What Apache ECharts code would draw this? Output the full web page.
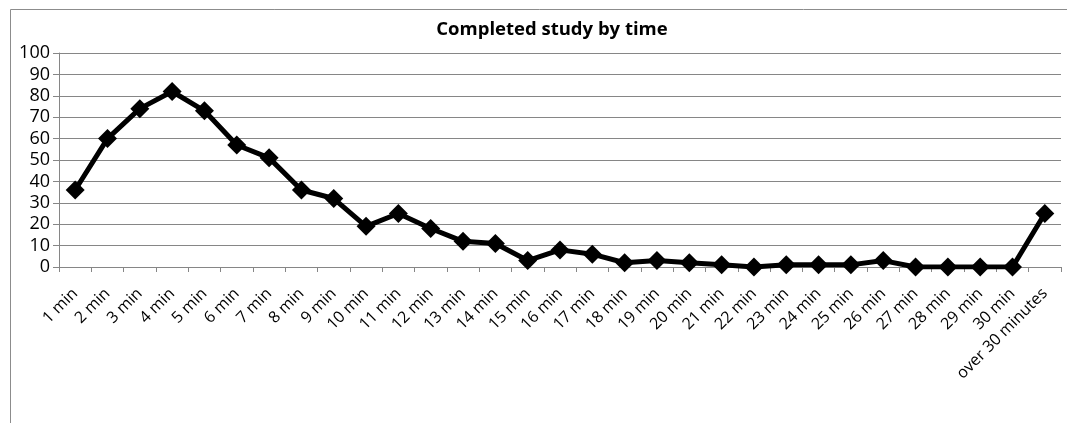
<!DOCTYPE html>
<html>
<head>
<meta charset="utf-8">
<script src="https://cdn.jsdelivr.net/npm/echarts@6/dist/echarts.min.js"></script>
<style>html,body{margin:0;padding:0;background:#fff;}#c{width:1067px;height:423px;}</style>
</head>
<body>
<div id="c"></div>
<script>
const categories = ['1 min','2 min','3 min','4 min','5 min','6 min','7 min','8 min','9 min','10 min','11 min','12 min','13 min','14 min','15 min','16 min','17 min','18 min','19 min','20 min','21 min','22 min','23 min','24 min','25 min','26 min','27 min','28 min','29 min','30 min','over 30 minutes'];
const completed = [36,60,74,82,73,57,51,36,32,19,25,18,12,11,3,8,6,2,3,2,1,0,1,1,1,3,0,0,0,0,25];
const yTicks = [0,10,20,30,40,50,60,70,80,90,100];
const titleText = 'Completed study by time';
const font = '"Open Sans", Lato, sans-serif';

const chart = echarts.init(document.getElementById('c'), null, {renderer:'canvas'});
chart.setOption({
  animation: false,
  backgroundColor: '#fff',
  title: {
    text: titleText, left: 547, textAlign: 'center', top: 15,
    textStyle: {fontFamily: font, fontSize: 18.5, fontWeight: 'bold', color: '#000'}
  },
  graphic: [{
    type: 'rect', shape: {x: 10.5, y: 9.5, width: 1200, height: 600},
    style: {fill: 'none', stroke: '#8c8c8c', lineWidth: 1}, silent: true, z: -1
  }],
  grid: {left: 59, right: 6, top: 53, bottom: 156, containLabel: false},
  xAxis: {
    type: 'category', data: categories, boundaryGap: true,
    axisLine: {lineStyle: {color: '#868686'}},
    axisTick: {show: true, length: 5, lineStyle: {color: '#868686'}},
    axisLabel: {rotate: 45, interval: 0, fontFamily: font, fontSize: 16, color: '#000', margin: 24}
  },
  yAxis: {
    type: 'value', min: yTicks[0], max: yTicks[yTicks.length-1], interval: 10,
    axisLine: {show: true, lineStyle: {color: '#868686'}},
    axisTick: {show: true, length: 6, lineStyle: {color: '#868686'}},
    splitLine: {lineStyle: {color: '#868686', width: 1}},
    axisLabel: {fontFamily: font, fontSize: 18, color: '#000', margin: 9}
  },
  series: [{
    type: 'line', data: completed,
    lineStyle: {color: '#000', width: 5},
    itemStyle: {color: '#000'},
    symbol: 'diamond', symbolSize: [19, 19], showAllSymbol: true
  }]
});
</script>
</body>
</html>
